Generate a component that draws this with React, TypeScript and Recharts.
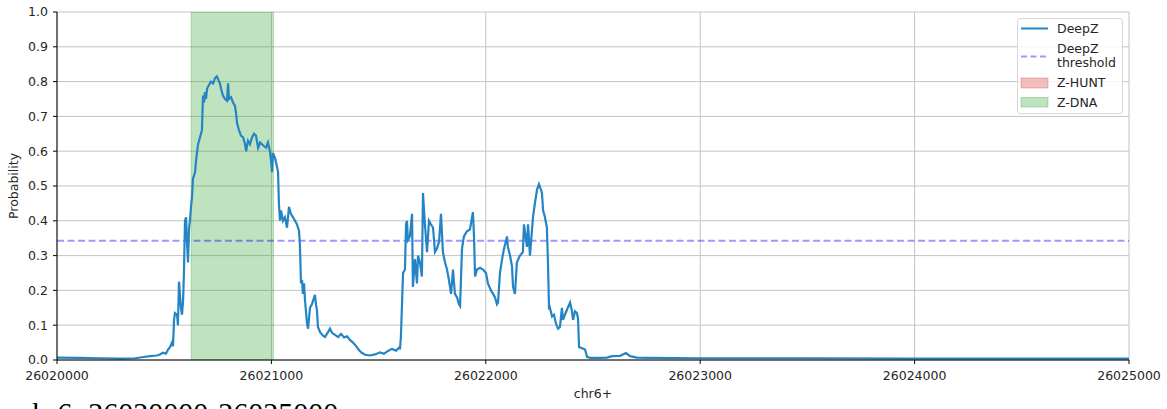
import React from "react";
import {
  LineChart, Line, XAxis, YAxis, CartesianGrid, ReferenceArea, ReferenceLine
} from "recharts";

// DeepZ probability along chr6+
const positions = [
  26020000, 26020107, 26020201, 26020294, 26020364, 26020396, 26020434, 26020466, 26020480, 26020494,
  26020508, 26020518, 26020527, 26020536, 26020541, 26020546, 26020550, 26020560, 26020564, 26020569,
  26020578, 26020583, 26020588, 26020592, 26020597, 26020602, 26020606, 26020611, 26020616, 26020620,
  26020625, 26020630, 26020634, 26020644, 26020648, 26020658, 26020667, 26020676, 26020681, 26020686,
  26020690, 26020695, 26020700, 26020709, 26020718, 26020728, 26020737, 26020746, 26020756, 26020760,
  26020765, 26020774, 26020784, 26020793, 26020798, 26020802, 26020812, 26020821, 26020830, 26020835,
  26020840, 26020849, 26020858, 26020868, 26020877, 26020882, 26020891, 26020900, 26020910, 26020919,
  26020928, 26020938, 26020947, 26020956, 26020965, 26020975, 26020984, 26020993, 26020998, 26021003,
  26021007, 26021017, 26021026, 26021031, 26021035, 26021040, 26021045, 26021054, 26021063, 26021073,
  26021082, 26021091, 26021101, 26021110, 26021119, 26021129, 26021133, 26021138, 26021143, 26021147,
  26021152, 26021157, 26021166, 26021171, 26021180, 26021189, 26021194, 26021203, 26021208, 26021213,
  26021217, 26021227, 26021241, 26021250, 26021264, 26021273, 26021283, 26021297, 26021311, 26021325,
  26021339, 26021353, 26021367, 26021381, 26021395, 26021409, 26021423, 26021437, 26021460, 26021483,
  26021507, 26021525, 26021544, 26021562, 26021581, 26021595, 26021600, 26021604, 26021614, 26021623,
  26021628, 26021632, 26021637, 26021646, 26021656, 26021660, 26021670, 26021679, 26021684, 26021693,
  26021702, 26021707, 26021716, 26021726, 26021735, 26021744, 26021754, 26021763, 26021772, 26021782,
  26021791, 26021800, 26021810, 26021819, 26021828, 26021838, 26021847, 26021856, 26021866, 26021875,
  26021880, 26021889, 26021898, 26021912, 26021926, 26021940, 26021945, 26021950, 26021959, 26021973,
  26021987, 26022001, 26022010, 26022024, 26022034, 26022043, 26022052, 26022057, 26022066, 26022076,
  26022085, 26022099, 26022103, 26022113, 26022122, 26022127, 26022136, 26022145, 26022159, 26022173,
  26022178, 26022192, 26022197, 26022206, 26022220, 26022229, 26022239, 26022248, 26022257, 26022262,
  26022267, 26022276, 26022285, 26022290, 26022295, 26022299, 26022309, 26022318, 26022327, 26022337,
  26022346, 26022355, 26022360, 26022369, 26022379, 26022393, 26022402, 26022407, 26022416, 26022425,
  26022430, 26022435, 26022449, 26022463, 26022472, 26022486, 26022533, 26022565, 26022589, 26022626,
  26022654, 26022673, 26022705, 26022766, 26023000, 26023500, 26024000, 26024500, 26025000,
];

const probability = [
  0.007, 0.006, 0.005, 0.004, 0.005, 0.008, 0.011, 0.013, 0.016, 0.021,
  0.018, 0.03, 0.037, 0.05, 0.04, 0.115, 0.135, 0.13, 0.10, 0.225,
  0.15, 0.13, 0.17, 0.25, 0.40, 0.41, 0.345, 0.28, 0.38, 0.40,
  0.44, 0.47, 0.52, 0.54, 0.57, 0.62, 0.64, 0.66, 0.76, 0.74,
  0.77, 0.75, 0.78, 0.79, 0.80, 0.795, 0.81, 0.815, 0.80, 0.795,
  0.78, 0.76, 0.75, 0.745, 0.795, 0.75, 0.755, 0.74, 0.73, 0.71,
  0.68, 0.66, 0.645, 0.64, 0.62, 0.60, 0.63, 0.62, 0.64, 0.65,
  0.645, 0.61, 0.625, 0.62, 0.615, 0.61, 0.625, 0.60, 0.575, 0.54,
  0.595, 0.58, 0.555, 0.54, 0.45, 0.40, 0.43, 0.40, 0.41, 0.38,
  0.44, 0.42, 0.41, 0.40, 0.39, 0.37, 0.33, 0.22, 0.23, 0.19,
  0.22, 0.17, 0.105, 0.09, 0.15, 0.16, 0.17, 0.187, 0.16, 0.14,
  0.095, 0.08, 0.07, 0.066, 0.08, 0.09, 0.078, 0.072, 0.066, 0.075,
  0.065, 0.068, 0.057, 0.05, 0.04, 0.028, 0.02, 0.015, 0.013, 0.016,
  0.022, 0.018, 0.026, 0.032, 0.027, 0.035, 0.034, 0.066, 0.25, 0.26,
  0.39, 0.40, 0.345, 0.355, 0.42, 0.21, 0.29, 0.22, 0.30, 0.28,
  0.24, 0.48, 0.39, 0.31, 0.40, 0.39, 0.38, 0.31, 0.32, 0.34,
  0.42, 0.31, 0.28, 0.26, 0.23, 0.19, 0.26, 0.19, 0.18, 0.16,
  0.155, 0.32, 0.355, 0.37, 0.375, 0.425, 0.355, 0.24, 0.26, 0.265,
  0.26, 0.25, 0.22, 0.20, 0.19, 0.18, 0.16, 0.165, 0.25, 0.29,
  0.32, 0.355, 0.325, 0.30, 0.27, 0.21, 0.19, 0.28, 0.30, 0.31,
  0.39, 0.325, 0.39, 0.30, 0.41, 0.45, 0.49, 0.505, 0.49, 0.48,
  0.43, 0.41, 0.38, 0.28, 0.145, 0.15, 0.125, 0.13, 0.105, 0.09,
  0.095, 0.15, 0.115, 0.13, 0.145, 0.165, 0.14, 0.115, 0.14, 0.135,
  0.12, 0.037, 0.034, 0.03, 0.009, 0.006, 0.006, 0.007, 0.011, 0.012,
  0.02, 0.011, 0.007, 0.006, 0.005, 0.005, 0.004, 0.004, 0.004,
];

const threshold = 0.343;
const zDnaRegions = [[26020625, 26021010]];
const xTicks = [26020000, 26021000, 26022000, 26023000, 26024000, 26025000];
const yTicks = [0, 0.1, 0.2, 0.3, 0.4, 0.5, 0.6, 0.7, 0.8, 0.9, 1.0];
const xDomain = [26020000, 26025000];

const data = positions.map((pos, i) => ({ pos, prob: probability[i] }));

const FONT = "'DejaVu Sans', sans-serif";
const TEXT = "#262626";
const LINE = "#2584c4";
const tickStyle = { fontSize: 12.5, fontFamily: FONT, fill: TEXT };

function LegendBox() {
  const t = { fontSize: 12.5, fontFamily: FONT, fill: TEXT };
  return (
    <div style={{
      position: "absolute", left: 1017, top: 18, width: 106, height: 96,
      border: "1px solid #d8d8d8", borderRadius: 3, background: "rgba(255,255,255,0.8)",
      boxSizing: "border-box",
    }}>
      <svg width={106} height={96} style={{ position: "absolute", left: -1, top: -1 }}>
        <line x1={4} x2={31} y1={10.5} y2={10.5} stroke={LINE} strokeWidth={2} />
        <text x={40} y={14.5} {...t}>DeepZ</text>
        <line x1={4} x2={31} y1={38.5} y2={38.5} stroke="#0000ff" strokeOpacity={0.4}
          strokeWidth={2} strokeDasharray="6 3.5" />
        <text x={40} y={34.5} {...t}>DeepZ</text>
        <text x={40} y={48.5} {...t}>threshold</text>
        <rect x={4} y={60} width={27} height={10} fill="#d62728" fillOpacity={0.3}
          stroke="#d62728" strokeOpacity={0.3} />
        <text x={40} y={69} {...t}>Z-HUNT</text>
        <rect x={4} y={79.5} width={27} height={9.5} fill="#2ca02c" fillOpacity={0.3}
          stroke="#2ca02c" strokeOpacity={0.3} />
        <text x={40} y={89} {...t}>Z-DNA</text>
      </svg>
    </div>
  );
}

export default function App() {
  return (
    <div style={{
      position: "absolute", left: 0, top: 0, width: 1167, height: 409,
      overflow: "hidden", background: "#fff",
    }}>
      <LineChart width={1167} height={409} data={data}
        margin={{ top: 12, right: 38, bottom: 0, left: 0 }}>
        <CartesianGrid stroke="#c4c4c4" strokeWidth={1} />
        {zDnaRegions.map(([a, b]) => (
          <ReferenceArea key={a} x1={a} x2={b} fill="#2ca02c" fillOpacity={0.3}
            stroke="#2ca02c" strokeOpacity={0.25} ifOverflow="hidden" />
        ))}
        <XAxis dataKey="pos" type="number" domain={xDomain} ticks={xTicks} interval={0}
          allowDataOverflow height={49} tick={tickStyle} tickSize={4} tickMargin={7}
          tickFormatter={(v) => String(v)} stroke="#000"
          label={{ value: "chr6+", position: "insideBottom", offset: 11,
            style: { fontSize: 12.5, fontFamily: FONT, fill: TEXT } }} />
        <XAxis xAxisId="top" orientation="top" type="number" domain={xDomain}
          height={0} tick={false} tickLine={false} stroke="#000" />
        <YAxis type="number" domain={[0, 1]} ticks={yTicks} interval={0} width={57}
          allowDataOverflow tick={tickStyle} tickSize={4} tickMargin={5}
          tickFormatter={(v) => Number(v).toFixed(1)} stroke="#000"
          label={{ value: "Probability", angle: -90, position: "insideLeft", offset: 14,
            style: { fontSize: 12.5, fontFamily: FONT, fill: TEXT, textAnchor: "middle" } }} />
        <YAxis yAxisId="right" orientation="right" type="number" domain={[0, 1]}
          width={0} tick={false} tickLine={false} stroke="#000" />
        <ReferenceLine y={threshold} stroke="#0000ff" strokeOpacity={0.4} strokeWidth={2}
          strokeDasharray="7 3.5" />
        <Line type="linear" dataKey="prob" stroke={LINE} strokeWidth={2.2} dot={false}
          activeDot={false} isAnimationActive={false} />
      </LineChart>
      <LegendBox />
      <div style={{
        position: "absolute", left: 19, top: 396, fontFamily: "'Liberation Serif', serif",
        fontSize: 30, whiteSpace: "nowrap", color: "#000",
      }}>
        chr6: 26020000-26025000
      </div>
    </div>
  );
}
